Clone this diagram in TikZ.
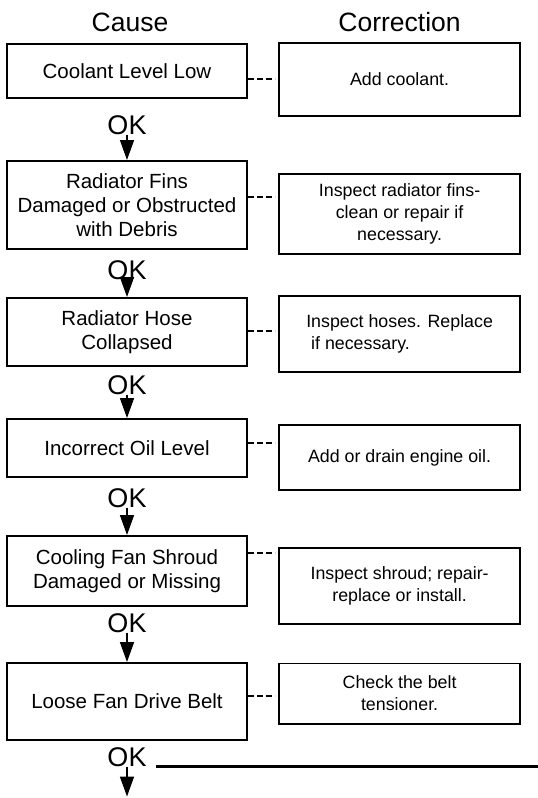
\documentclass[tikz,border=0pt]{standalone}
\usepackage{fontspec}
\setmainfont{Liberation Sans}
\usetikzlibrary{arrows.meta,positioning}

\begin{document}
\begin{tikzpicture}[x=1pt,y=-1pt,>={Triangle[length=20pt,width=14pt]},node distance=30pt]
  \tikzstyle{cause}=[draw,line width=2.4pt,minimum width=240pt,align=center,inner sep=2pt,font=\fontsize{20.5}{24}\selectfont]
  \tikzstyle{fix}=[draw,line width=1.8pt,minimum width=241pt,align=center,inner sep=2pt,font=\fontsize{17.8}{22}\selectfont]
  \tikzstyle{ok}=[inner sep=0pt,font=\fontsize{27}{27}\selectfont]
  \tikzstyle{head}=[inner sep=0pt,font=\fontsize{26.5}{26.5}\selectfont]
  \tikzstyle{link}=[line width=2pt,dash pattern=on 6pt off 3pt,shorten >=3pt]
  \useasboundingbox[fill=white] (0,0) rectangle (538,798);
  % headers
  \node[cause,minimum height=53.6pt] (b1) at (127,71) {Coolant Level Low};
  \node[head,above=11pt of b1,xshift=3pt] (cause) {Cause};
  % cause column
  \node[cause,minimum height=87.6pt,below=61pt of b1] (b2) {Radiator Fins\\Damaged or Obstructed\\with Debris};
  \node[cause,minimum height=67.6pt,below=47pt of b2] (b3) {Radiator Hose\\Collapsed};
  \node[cause,minimum height=57.6pt,below=51pt of b3] (b4) {Incorrect Oil Level};
  \node[cause,minimum height=69.6pt,below=57pt of b4] (b5) {Cooling Fan Shroud\\Damaged or Missing};
  \node[cause,minimum height=76.6pt,below=55pt of b5] (b6) {Loose Fan Drive Belt};
  % correction column
  \node[fix,minimum height=73.2pt,right=30pt of b1,yshift=-8.5pt] (k1) {Add coolant.};
  \node[head,above=10pt of k1] (correction) {Correction};
  \node[fix,minimum height=80.2pt,right=30pt of b2,yshift=-9pt] (k2) {Inspect radiator fins-\\clean or repair if\\necessary.};
  \node[fix,minimum height=76.2pt,right=30pt of b3,yshift=-2pt,align=left] (k3) {Inspect hoses. Replace\\\ if necessary.};
  \node[fix,minimum height=65.2pt,right=30pt of b4,yshift=-9.5pt] (k4) {Add or drain engine oil.};
  \node[fix,minimum height=76.2pt,right=30pt of b5,yshift=-15pt] (k5) {Inspect shroud; repair-\\replace or install.};
  \node[fix,minimum height=60.2pt,right=30pt of b6,yshift=8pt] (k6) {Check the belt\\tensioner.};
  % OK labels
  \node[ok,below=16pt of b1] (ok1) {OK};
  \node[ok,below=10pt of b2] (ok2) {OK};
  \node[ok,below=8pt of b3] (ok3) {OK};
  \node[ok,below=10pt of b4] (ok4) {OK};
  \node[ok,below=6pt of b5] (ok5) {OK};
  \node[ok,below=6pt of b6] (ok6) {OK};
  \coordinate[below=30pt of ok6] (tip);
  \coordinate (edge) at (538,0);
  % arrows
  \draw[line width=1.6pt,->] (ok1.south) -- (b2.north);
  \draw[line width=1.6pt,->] (ok2.south) -- (b3.north);
  \draw[line width=1.6pt,->] (ok3.south) -- (b4.north);
  \draw[line width=1.6pt,->] (ok4.south) -- (b5.north);
  \draw[line width=1.6pt,->] (ok5.south) -- (b6.north);
  \draw[line width=1.6pt,->] (ok6.south) -- (tip);
  \draw[line width=2.6pt] ([xshift=9pt]ok6.south east) -- (ok6.south east -| edge);
  % dashed links
  \draw[link] ([yshift=-8pt]b1.east) -- ([yshift=-8pt]b1.east -| k1.west);
  \draw[link] ([yshift=8pt]b2.east) -- ([yshift=8pt]b2.east -| k2.west);
  \draw[link] ([yshift=1pt]b3.east) -- ([yshift=1pt]b3.east -| k3.west);
  \draw[link] ([yshift=5pt]b4.east) -- ([yshift=5pt]b4.east -| k4.west);
  \draw[link] ([yshift=18pt]b5.east) -- ([yshift=18pt]b5.east -| k5.west);
  \draw[link] ([yshift=6pt]b6.east) -- ([yshift=6pt]b6.east -| k6.west);
\end{tikzpicture}
\end{document}
